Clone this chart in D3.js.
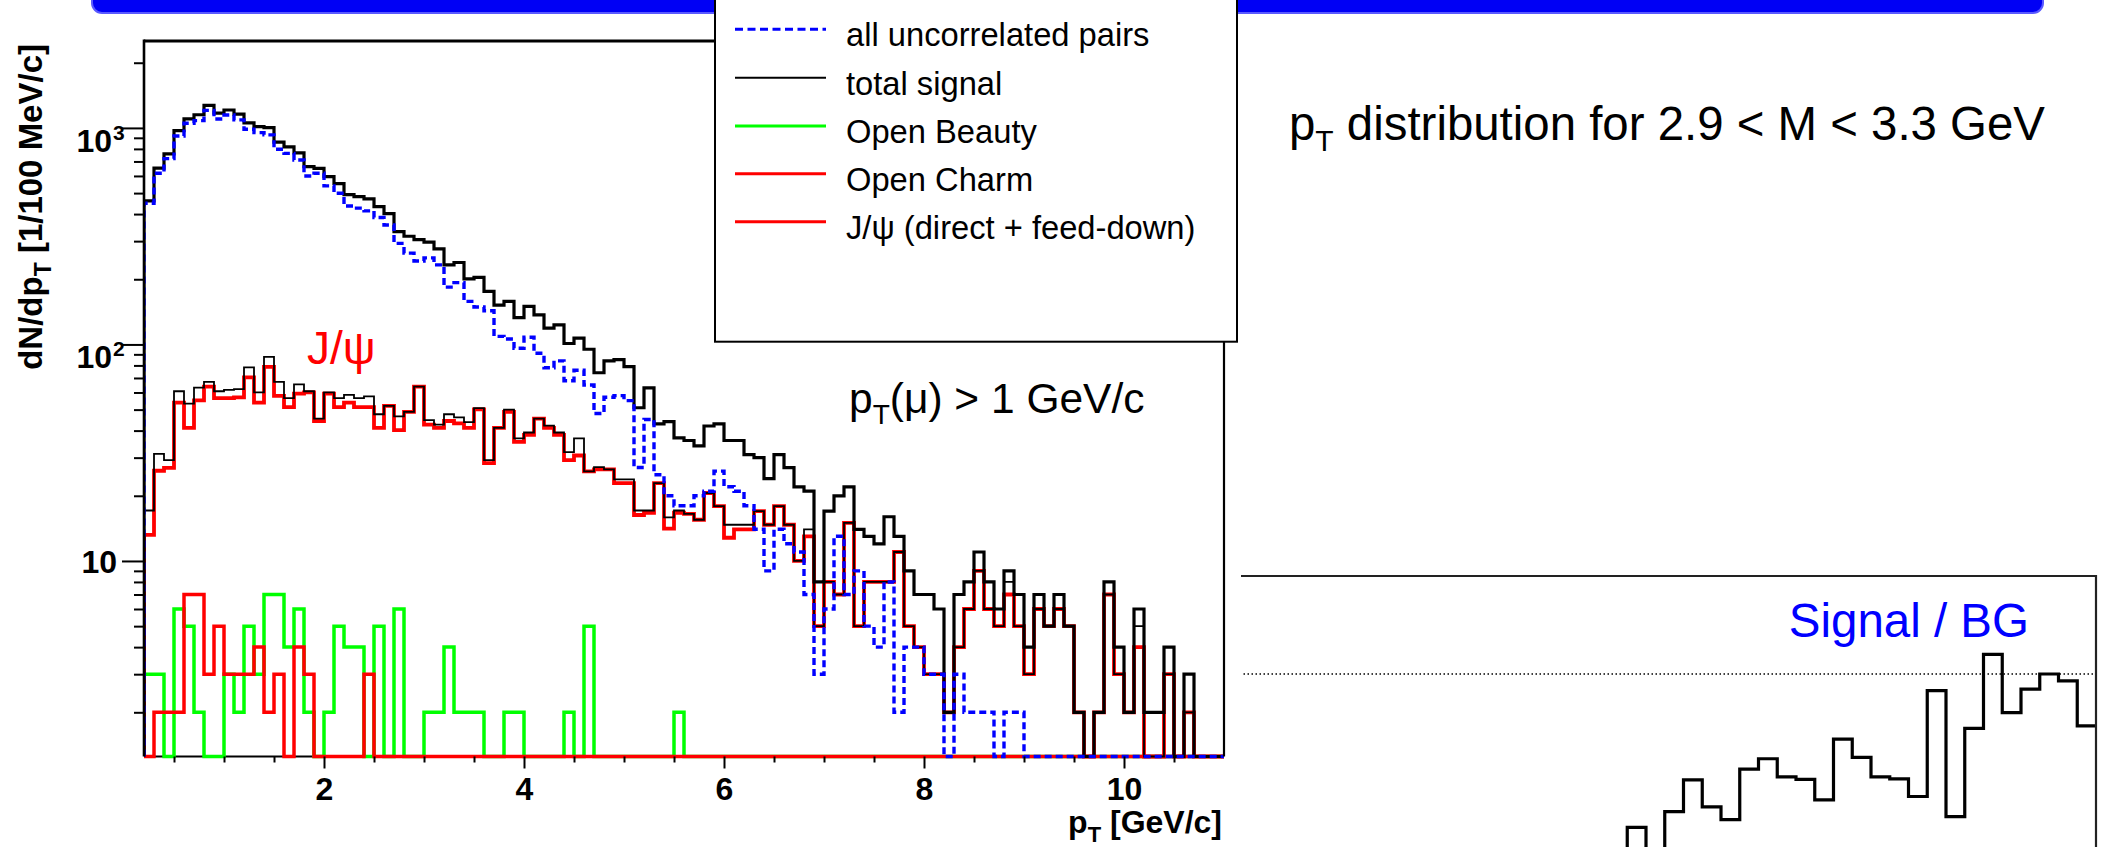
<!DOCTYPE html>
<html>
<head>
<meta charset="utf-8">
<script src="https://cdn.jsdelivr.net/npm/d3@7"></script>
<style>
  html, body { margin: 0; padding: 0; background: #fff; }
  svg { display: block; }
  text { font-family: "Liberation Sans", Arial, Helvetica, sans-serif; }
</style>
</head>
<body>
<svg id="chart" width="2112" height="847"></svg>
<script>
// pT histograms: 108 bins of 0.1 GeV/c between 0.2 and 11.0 GeV/c
const binStart = 0.2;
const binWidth = 0.1;

const uncorrelatedPairs = [
  449, 617, 721, 918, 1051, 1081, 1205, 1100, 1148, 1089,
  986, 951, 929, 797, 763, 711, 600, 617, 540, 499,
  436, 426, 414, 386, 356, 293, 264, 243, 251, 233,
  184, 193, 158, 149, 143, 109, 106, 96, 108, 91,
  78, 84, 68, 76, 65, 48, 57, 58, 55, 27,
  45, 25, 20, 18, 18, 20, 21, 26, 22, 21,
  18, 14, 9, 14, 12, 11, 7, 3, 6, 13,
  7, 9, 5, 4, 8, 2, 4, 4, 3, 3,
  0, 3, 2, 2, 2, 0, 2, 2, 0, 0,
  0, 0, 0, 0, 0, 0, 0, 0, 0, 0,
  0, 0, 0, 0, 0, 0, 0, 0
];

const totalPairs = [
  460, 652, 759, 972, 1100, 1150, 1272, 1170, 1210, 1158,
  1055, 1014, 1004, 860, 818, 767, 663, 650, 596, 553,
  492, 482, 470, 433, 402, 332, 316, 305, 297, 276,
  233, 239, 201, 204, 176, 152, 158, 133, 150, 137,
  119, 123, 101, 107, 95, 74, 84, 85, 79, 51,
  63, 43, 44, 37, 36, 34, 42, 43, 36, 36,
  31, 30, 24, 31, 27, 22, 21, 8, 17, 20,
  22, 14, 13, 12, 16, 13, 9, 7, 7, 6,
  2, 7, 8, 11, 8, 6, 9, 7, 4, 7,
  5, 7, 5, 2, 0, 2, 8, 4, 2, 6,
  2, 2, 4, 0, 3, 0, 0, 0
];

const totalSignal = [
  17.1, 31.2, 29.2, 60.8, 53.3, 63.2, 67.1, 60.8, 61.7, 62.2,
  78.4, 60, 87.7, 67.1, 56.5, 65.4, 60.8, 45.4, 60, 56.5,
  58.5, 56.5, 57.6, 47.6, 52, 46.5, 48.8, 63.9, 44.7, 42.6,
  47.6, 46, 43.8, 50.8, 29.2, 41.2, 50, 36.8, 39.2, 45.4,
  42.2, 39.2, 31.8, 36.8, 25.9, 27.1, 26.5, 23.8, 23.8, 17.1,
  17.1, 22.9, 15.9, 17.1, 16.5, 15.5, 20.6, 17.9, 14.7, 14.7,
  14.7, 17, 14.7, 17.9, 14.7, 10, 14, 5, 8, 7,
  15, 5, 8, 8, 8, 11, 5, 4, 3, 3,
  2, 4, 6, 9, 6, 5, 8, 5, 3, 6,
  5, 6, 5, 2, 0, 2, 7, 3, 2, 5,
  1, 1, 3, 0, 2, 0, 0, 0
];

const jpsi = [
  13.2, 26.1, 26.9, 53.9, 41.2, 55.2, 63.9, 56.5, 56.5, 57,
  70.4, 53.9, 78.8, 57.9, 51.3, 59.3, 60, 44.3, 59.3, 51.3,
  53.9, 51.3, 51.3, 41.2, 52, 40.2, 48.8, 63.9, 42.6, 41.2,
  44.3, 43.2, 41.2, 50.1, 28.3, 41.2, 48.8, 35.5, 38.2, 45.4,
  41.2, 38.2, 29.2, 30.7, 25.9, 26.5, 26.5, 22.9, 22.9, 16.3,
  16.7, 22.9, 14.1, 16.7, 16.5, 15.5, 20.6, 17.9, 12.8, 14,
  14, 17, 14.7, 17.9, 14.7, 10, 13, 5, 8, 7,
  15, 5, 8, 8, 8, 11, 5, 4, 3, 3,
  2, 4, 6, 9, 6, 5, 7, 5, 3, 6,
  5, 6, 5, 2, 0, 2, 7, 3, 2, 4,
  0, 0, 3, 0, 2, 0, 0, 0
];

const openCharm = [
  0, 2, 2, 2, 7, 7, 3, 5, 3, 3,
  3, 4, 2, 3, 0, 4, 3, 0, 0, 0,
  0, 0, 3, 0, 0, 0, 0, 0, 0, 0,
  0, 0, 0, 0, 0, 0, 0, 0, 0, 0,
  0, 0, 0, 0, 0, 0, 0, 0, 0, 0,
  0, 0, 0, 0, 0, 0, 0, 0, 0, 0,
  0, 0, 0, 0, 0, 0, 0, 0, 0, 0,
  0, 0, 0, 0, 0, 0, 0, 0, 0, 0,
  0, 0, 0, 0, 0, 0, 0, 0, 0, 0,
  0, 0, 0, 0, 0, 0, 0, 0, 0, 0,
  0, 0, 0, 0, 0, 0, 0, 0
];

const openBeauty = [
  3, 3, 0, 6, 5, 2, 0, 0, 3, 2,
  5, 3, 7, 7, 4, 6, 2, 0, 2, 5,
  4, 4, 0, 5, 0, 6, 0, 0, 2, 2,
  4, 2, 2, 2, 0, 0, 2, 2, 0, 0,
  0, 0, 2, 0, 5, 0, 0, 0, 0, 0,
  0, 0, 0, 2, 0, 0, 0, 0, 0, 0,
  0, 0, 0, 0, 0, 0, 0, 0, 0, 0,
  0, 0, 0, 0, 0, 0, 0, 0, 0, 0,
  0, 0, 0, 0, 0, 0, 0, 0, 0, 0,
  0, 0, 0, 0, 0, 0, 0, 0, 0, 0,
  0, 0, 0, 0, 0, 0, 0, 0
];

// Signal / BG ratio, 0.2 GeV/c bins starting at 6.0 GeV/c
const ratioStart = 6.0;
const ratioWidth = 0.2;
const signalOverBg = [
  0.687, 0.60, 0.719, 0.784, 0.729, 0.703, 0.806, 0.827, 0.790, 0.785,
  0.743, 0.867, 0.830, 0.790, 0.786, 0.750, 0.966, 0.709, 0.889, 1.040,
  0.921, 0.969, 1.000, 0.986, 0.894
];

const xTickLabels = [2, 4, 6, 8, 10];
const yDecades = [10, 100, 1000];

const legendEntries = [
  { label: "all uncorrelated pairs", color: "#0000ff", dash: "8,4.5", width: 3 },
  { label: "total signal", color: "#000000", dash: null, width: 2 },
  { label: "Open Beauty", color: "#00ff00", dash: null, width: 3 },
  { label: "Open Charm", color: "#ff0000", dash: null, width: 3 },
  { label: "J/\u03c8 (direct + feed-down)", color: "#ff0000", dash: null, width: 3 }
];

// ---------------------------------------------------------------
const svg = d3.select("#chart");
const W = 2112, H = 847;
svg.append("rect").attr("width", W).attr("height", H).attr("fill", "#fff");

const frame = { left: 144, right: 1224, top: 41, bottom: 756.5 };
const yMin = 1.25, yMax = 2520;

const x = d3.scaleLinear().domain([0.2, 11.0]).range([frame.left, frame.right]);
const y = d3.scaleLog().domain([yMin, yMax]).range([frame.bottom, frame.top]);
const yv = v => (v < yMin ? frame.bottom : y(v));

const defs = svg.append("defs");
defs.append("clipPath").attr("id", "frameClip")
  .append("rect").attr("x", frame.left).attr("y", frame.top)
  .attr("width", frame.right - frame.left).attr("height", frame.bottom - frame.top + 3);
defs.append("clipPath").attr("id", "insetClip")
  .append("rect").attr("x", 1241).attr("y", 576).attr("width", 2096 - 1241).attr("height", H - 576);

// ---------- Signal / BG inset (lower right) ----------
const xs = d3.scaleLinear().domain([0.2, 11.0]).range([1083.5, 2096]);
const ys = d3.scaleLinear().domain([0, 1.2]).range([1164, 576]);
const inset = svg.append("g").attr("clip-path", "url(#insetClip)");
inset.append("line")
  .attr("x1", xs(0.2)).attr("x2", xs(11.0)).attr("y1", ys(1)).attr("y2", ys(1))
  .attr("stroke", "#000").attr("stroke-width", 1.4).attr("stroke-dasharray", "1.5,2.5");
const ratioPts = [[ratioStart, 0]].concat(signalOverBg.map((v, i) => [ratioStart + i * ratioWidth, v]));
ratioPts.push([ratioStart + signalOverBg.length * ratioWidth, signalOverBg[signalOverBg.length - 1]]);
inset.append("path")
  .attr("d", d3.line().x(d => xs(d[0])).y(d => ys(d[1])).curve(d3.curveStepAfter)(ratioPts))
  .attr("fill", "none").attr("stroke", "#000").attr("stroke-width", 3.2);
svg.append("line").attr("x1", 1241).attr("x2", 2097).attr("y1", 576).attr("y2", 576)
  .attr("stroke", "#222").attr("stroke-width", 2.2);
svg.append("line").attr("x1", 2096).attr("x2", 2096).attr("y1", 575).attr("y2", H)
  .attr("stroke", "#222").attr("stroke-width", 2.2);
svg.append("text").attr("x", 2029).attr("y", 637).attr("text-anchor", "end")
  .attr("font-size", 47.5).attr("fill", "#0000ff").text("Signal / BG");

// ---------- title banner (edge of the slide header) ----------
svg.append("rect").attr("x", 92).attr("y", -30).attr("width", 2043 - 92).attr("height", 43)
  .attr("rx", 10).attr("fill", "#0000f5").attr("stroke", "#5a5aff").attr("stroke-width", 2);

// ---------- main histogram frame ----------
svg.append("line").attr("x1", frame.left).attr("x2", frame.right)
  .attr("y1", frame.bottom).attr("y2", frame.bottom).attr("stroke", "#000").attr("stroke-width", 2);

function stepPath(values) {
  const pts = [[binStart, 0]].concat(values.map((v, i) => [binStart + i * binWidth, v]));
  pts.push([binStart + values.length * binWidth, values[values.length - 1]]);
  return d3.line().x(d => x(d[0])).y(d => yv(d[1])).curve(d3.curveStepAfter)(pts);
}

const hist = svg.append("g").attr("clip-path", "url(#frameClip)");
const series = [
  { data: openBeauty, color: "#00ff00", width: 3.5, dash: null },
  { data: openCharm, color: "#ff0000", width: 3.5, dash: null },
  { data: jpsi, color: "#ff0000", width: 3.8, dash: null },
  { data: totalSignal, color: "#000000", width: 1.8, dash: null },
  { data: totalPairs, color: "#000000", width: 3.2, dash: null },
  { data: uncorrelatedPairs, color: "#0000ff", width: 3.4, dash: "7,4" }
];
series.forEach(s => {
  hist.append("path").attr("d", stepPath(s.data))
    .attr("fill", "none").attr("stroke", s.color).attr("stroke-width", s.width)
    .attr("stroke-dasharray", s.dash).attr("stroke-linejoin", "miter");
});

// frame lines
svg.append("line").attr("x1", frame.left).attr("x2", frame.left)
  .attr("y1", frame.top - 1.5).attr("y2", frame.bottom).attr("stroke", "#000").attr("stroke-width", 2.6);
svg.append("line").attr("x1", frame.left).attr("x2", 716)
  .attr("y1", frame.top).attr("y2", frame.top).attr("stroke", "#000").attr("stroke-width", 3);
svg.append("line").attr("x1", frame.right).attr("x2", frame.right)
  .attr("y1", frame.top).attr("y2", frame.bottom).attr("stroke", "#000").attr("stroke-width", 2.2);

// ---------- x axis ----------
const xMinor = d3.range(0.5, 11.01, 0.5).filter(t => !xTickLabels.includes(t) && t < 11);
const xMinorAxis = d3.axisBottom(x).tickValues(xMinor).tickSize(6).tickFormat("");
const xMajorAxis = d3.axisBottom(x).tickValues(xTickLabels).tickSize(12).tickPadding(9)
  .tickFormat(d3.format("d"));
[xMinorAxis, xMajorAxis].forEach(ax => {
  const g = svg.append("g").attr("transform", `translate(0,${frame.bottom})`).call(ax);
  g.select(".domain").remove();
  g.selectAll(".tick line").attr("stroke", "#000").attr("stroke-width", 2);
  g.selectAll("text").attr("font-size", 32).attr("font-weight", "bold")
    .attr("font-family", "'Liberation Sans', Arial, sans-serif").attr("fill", "#000");
});

// ---------- y axis ----------
const yMinor = [];
[1, 10, 100, 1000].forEach(dec => {
  for (let m = 2; m <= 9; m++) { const v = m * dec; if (v > yMin && v < yMax) yMinor.push(v); }
});
const yMinorAxis = d3.axisLeft(y).tickValues(yMinor).tickSize(10).tickFormat("");
const yMajorAxis = d3.axisLeft(y).tickValues(yDecades).tickSize(22).tickFormat("");
[yMinorAxis, yMajorAxis].forEach(ax => {
  const g = svg.append("g").attr("transform", `translate(${frame.left},0)`).call(ax);
  g.select(".domain").remove();
  g.selectAll(".tick line").attr("stroke", "#000").attr("stroke-width", 2);
});
// decade labels: 10, 10^2, 10^3
yDecades.forEach(v => {
  const exp = Math.round(Math.log10(v));
  const ty = y(v);
  if (exp === 1) {
    svg.append("text").attr("x", 117).attr("y", ty + 12).attr("text-anchor", "end")
      .attr("font-size", 32).attr("font-weight", "bold").text("10");
  } else {
    svg.append("text").attr("x", 112).attr("y", ty + 24).attr("text-anchor", "end")
      .attr("font-size", 32).attr("font-weight", "bold").text("10");
    svg.append("text").attr("x", 113).attr("y", ty + 12).attr("text-anchor", "start")
      .attr("font-size", 21).attr("font-weight", "bold").text(String(exp));
  }
});

// axis titles
const xt = svg.append("text").attr("x", 1222).attr("y", 833).attr("text-anchor", "end")
  .attr("font-size", 32).attr("font-weight", "bold");
xt.append("tspan").text("p");
xt.append("tspan").attr("font-size", 22).attr("dy", 9).text("T");
xt.append("tspan").attr("dy", -9).text(" [GeV/c]");

const yt = svg.append("text").attr("transform", "translate(42,44) rotate(-90)")
  .attr("text-anchor", "end").attr("font-size", 33).attr("font-weight", "bold");
yt.append("tspan").text("dN/dp");
yt.append("tspan").attr("font-size", 23).attr("dy", 9).text("T");
yt.append("tspan").attr("dy", -9).text(" [1/100 MeV/c]");

// ---------- legend ----------
const lg = svg.append("g");
lg.append("rect").attr("x", 715).attr("y", -4).attr("width", 1237 - 715).attr("height", 341.7 + 4)
  .attr("fill", "#fff").attr("stroke", "#000").attr("stroke-width", 2);
const rowY = [29.3, 77.7, 126, 173.7, 221.7];
legendEntries.forEach((e, i) => {
  lg.append("line").attr("x1", 735).attr("x2", 826).attr("y1", rowY[i]).attr("y2", rowY[i])
    .attr("stroke", e.color).attr("stroke-width", e.width).attr("stroke-dasharray", e.dash);
  lg.append("text").attr("x", 846).attr("y", rowY[i] + 17).attr("font-size", 32.7)
    .attr("fill", "#000").text(e.label);
});

// ---------- annotations ----------
svg.append("text").attr("x", 307).attr("y", 364).attr("font-size", 46).attr("fill", "#ff0000")
  .text("J/\u03c8");

const cut = svg.append("text").attr("x", 849).attr("y", 413).attr("font-size", 42.5).attr("fill", "#000");
cut.append("tspan").text("p");
cut.append("tspan").attr("font-size", 28).attr("dy", 11).text("T");
cut.append("tspan").attr("dy", -11).text("(\u03bc) > 1 GeV/c");

const ttl = svg.append("text").attr("x", 1289).attr("y", 140).attr("font-size", 47.4).attr("fill", "#000");
ttl.append("tspan").text("p");
ttl.append("tspan").attr("font-size", 30).attr("dy", 11).text("T");
ttl.append("tspan").attr("dy", -11).text(" distribution for 2.9 < M < 3.3 GeV");
</script>
</body>
</html>
